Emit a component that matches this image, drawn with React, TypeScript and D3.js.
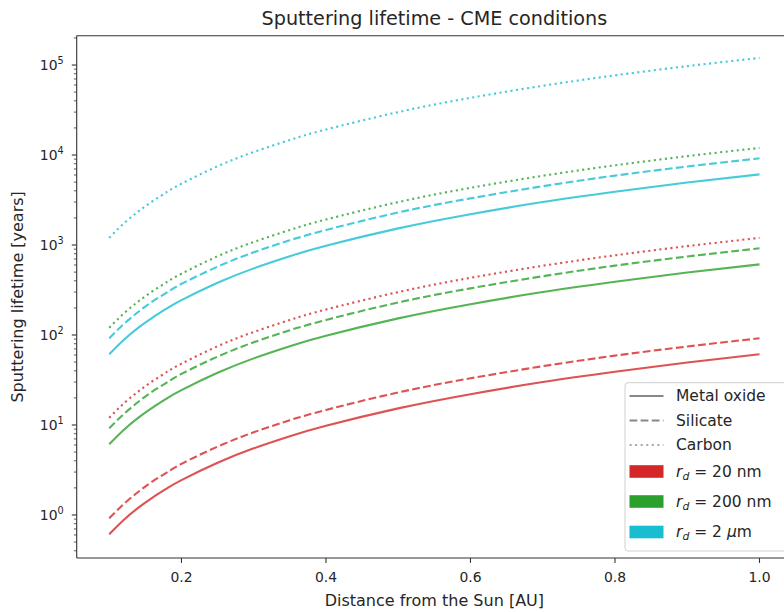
import React from "react";
import * as d3 from "d3";

// Distance from the Sun [AU]
const distances = [0.1, 0.12, 0.14, 0.16, 0.18, 0.2, 0.25, 0.3, 0.35, 0.4, 0.5, 0.6, 0.7, 0.8, 0.9, 1.0];

// Sputtering lifetime [years]
const metalOxide20nm = [0.61, 0.88, 1.2, 1.56, 1.98, 2.44, 3.8, 5.5, 7.5, 9.8, 15.3, 22, 30, 39, 49.5, 61];
const silicate20nm = [0.92, 1.32, 1.8, 2.36, 2.98, 3.7, 5.75, 8.3, 11.3, 14.7, 23, 33, 45, 59, 74.5, 92];
const carbon20nm = [12, 17.3, 23.5, 30.7, 38.9, 48, 75, 108, 147, 192, 300, 432, 588, 768, 972, 1200];

const metalOxide200nm = [6.1, 8.8, 12, 15.6, 19.8, 24.4, 38, 55, 75, 98, 153, 220, 300, 390, 495, 610];
const silicate200nm = [9.2, 13.2, 18, 23.6, 29.8, 37, 57.5, 83, 113, 147, 230, 330, 450, 590, 745, 920];
const carbon200nm = [120, 173, 235, 307, 389, 480, 750, 1080, 1470, 1920, 3000, 4320, 5880, 7680, 9720, 12000];

const metalOxide2um = [61, 88, 120, 156, 198, 244, 380, 550, 750, 980, 1530, 2200, 3000, 3900, 4950, 6100];
const silicate2um = [92, 132, 180, 236, 298, 370, 575, 830, 1130, 1470, 2300, 3300, 4500, 5900, 7450, 9200];
const carbon2um = [1200, 1730, 2350, 3070, 3890, 4800, 7500, 10800, 14700, 19200, 30000, 43200, 58800, 76800, 97200, 120000];

const xTicks = [0.2, 0.4, 0.6, 0.8, 1.0];
const yDecades = [0, 1, 2, 3, 4, 5];

const sizeLabels = ["20 nm", "200 nm", "2 μm"];
const materialLabels = ["Metal oxide", "Silicate", "Carbon"];

const RED = "#d62728";
const GREEN = "#2ca02c";
const CYAN = "#17becf";

const series = [
  { values: metalOxide20nm, color: RED, style: "solid" },
  { values: silicate20nm, color: RED, style: "dashed" },
  { values: carbon20nm, color: RED, style: "dotted" },
  { values: metalOxide200nm, color: GREEN, style: "solid" },
  { values: silicate200nm, color: GREEN, style: "dashed" },
  { values: carbon200nm, color: GREEN, style: "dotted" },
  { values: metalOxide2um, color: CYAN, style: "solid" },
  { values: silicate2um, color: CYAN, style: "dashed" },
  { values: carbon2um, color: CYAN, style: "dotted" },
];

const W = 784;
const H = 612;
const plotLeft = 76.7;
const plotRight = 792;
const plotTop = 35.7;
const plotBottom = 558;
const FONT = "DejaVu Sans, sans-serif";
const TXT = "#262626";
const LW = 2.1;

const dashFor = (s: string) =>
  s === "dashed" ? `${3.7 * LW},${1.6 * LW}` : s === "dotted" ? `${1 * LW},${1.65 * LW}` : undefined;

export default function App() {
  const x = d3.scaleLinear().domain([0.055, 1.045]).range([plotLeft, plotRight]);
  const y = d3
    .scaleLog()
    .domain([Math.pow(10, -0.478), Math.pow(10, 5.326)])
    .range([plotBottom, plotTop]);

  const line = (vals: number[]) =>
    d3
      .line<number>()
      .x((_, i) => x(distances[i]))
      .y((v) => y(v))
      .curve(d3.curveNatural)(vals) || "";

  const minorTicks: number[] = [];
  for (let e = -1; e <= 5; e++) {
    for (let m = 2; m <= 9; m++) {
      const v = m * Math.pow(10, e);
      const [d0, d1] = y.domain();
      if (v >= d0 && v <= d1) minorTicks.push(v);
    }
  }

  const legendX = 625;
  const legendY = 382.7;
  const legendW = 170;
  const legendH = 168.3;
  const handleX0 = 629.5;
  const handleX1 = 663.5;
  const textX = 676;
  const lineRows = [396, 420.5, 445];
  const patchRows = [471.5, 501.5, 532];
  const patchColors = [RED, GREEN, CYAN];

  return (
    <svg width={W} height={H} style={{ display: "block", position: "absolute", left: 0, top: 0 }}>
      <rect x={0} y={0} width={W} height={H} fill="#ffffff" />
      <defs>
        <clipPath id="plotclip">
          <rect x={plotLeft} y={plotTop} width={plotRight - plotLeft} height={plotBottom - plotTop} />
        </clipPath>
      </defs>

      {/* title */}
      <text x={(plotLeft + plotRight) / 2} y={25} textAnchor="middle" fontFamily={FONT} fontSize={19.2} fill={TXT}>
        Sputtering lifetime - CME conditions
      </text>

      {/* curves */}
      <g clipPath="url(#plotclip)">
        {series.map((s, i) => (
          <path
            key={i}
            d={line(s.values)}
            fill="none"
            stroke={s.color}
            strokeOpacity={0.8}
            strokeWidth={LW}
            strokeDasharray={dashFor(s.style)}
          />
        ))}
      </g>

      {/* spines */}
      <g stroke="#333" strokeWidth={1.1} fill="none">
        <line x1={plotLeft} x2={plotLeft} y1={plotTop} y2={plotBottom} />
        <line x1={plotLeft} x2={plotRight} y1={plotBottom} y2={plotBottom} />
        <line x1={plotLeft} x2={plotRight} y1={plotTop} y2={plotTop} />
        <line x1={plotRight} x2={plotRight} y1={plotTop} y2={plotBottom} />
      </g>

      {/* x ticks */}
      {xTicks.map((t) => (
        <g key={t}>
          <line x1={x(t)} x2={x(t)} y1={plotBottom} y2={plotBottom + 4.9} stroke="#333" strokeWidth={1.1} />
          <text x={x(t)} y={plotBottom + 23.5} textAnchor="middle" fontFamily={FONT} fontSize={13.9} fill={TXT}>
            {t.toFixed(1)}
          </text>
        </g>
      ))}
      <text
        x={(plotLeft + plotRight) / 2}
        y={605.5}
        textAnchor="middle"
        fontFamily={FONT}
        fontSize={16}
        fill={TXT}
      >
        Distance from the Sun [AU]
      </text>

      {/* y ticks */}
      {minorTicks.map((v) => (
        <line key={v} x1={plotLeft} x2={plotLeft - 2.8} y1={y(v)} y2={y(v)} stroke="#333" strokeWidth={0.8} />
      ))}
      {yDecades.map((e) => {
        const py = y(Math.pow(10, e));
        return (
          <g key={e}>
            <line x1={plotLeft} x2={plotLeft - 4.9} y1={py} y2={py} stroke="#333" strokeWidth={1.1} />
            <text x={plotLeft - 13} y={py + 5} textAnchor="end" fontFamily={FONT} fontSize={13.9} fill={TXT}>
              10
              <tspan fontSize={9.7} dy={-6}>
                {e}
              </tspan>
            </text>
          </g>
        );
      })}
      <text
        transform={`translate(23,${(plotTop + plotBottom) / 2}) rotate(-90)`}
        textAnchor="middle"
        fontFamily={FONT}
        fontSize={16}
        fill={TXT}
      >
        Sputtering lifetime [years]
      </text>

      {/* legend */}
      <rect
        x={legendX}
        y={legendY}
        width={legendW}
        height={legendH}
        rx={3}
        fill="#ffffff"
        fillOpacity={0.8}
        stroke="#d0d0d0"
        strokeWidth={1}
      />
      {materialLabels.map((lab, i) => (
        <g key={lab}>
          <line
            x1={handleX0}
            x2={handleX1}
            y1={lineRows[i]}
            y2={lineRows[i]}
            stroke={i === 2 ? "#aaaaaa" : "#888888"}
            strokeWidth={LW}
            strokeDasharray={dashFor(["solid", "dashed", "dotted"][i])}
          />
          <text x={textX} y={lineRows[i] + 5} fontFamily={FONT} fontSize={15.5} fill={TXT}>
            {lab}
          </text>
        </g>
      ))}
      {sizeLabels.map((lab, i) => (
        <g key={lab}>
          <rect x={handleX0} y={patchRows[i] - 6.3} width={handleX1 - handleX0} height={12.6} fill={patchColors[i]} />
          <text x={textX} y={patchRows[i] + 5} fontFamily={FONT} fontSize={15.5} fill={TXT}>
            <tspan fontStyle="italic">r</tspan>
            <tspan fontStyle="italic" fontSize={10.8} dy={3}>
              d
            </tspan>
            <tspan dy={-3}>{" = "}</tspan>
            {lab === "2 μm" ? (
              <>
                <tspan>{"2 "}</tspan>
                <tspan fontStyle="italic">μ</tspan>
                <tspan>m</tspan>
              </>
            ) : (
              <tspan>{lab}</tspan>
            )}
          </text>
        </g>
      ))}
    </svg>
  );
}
